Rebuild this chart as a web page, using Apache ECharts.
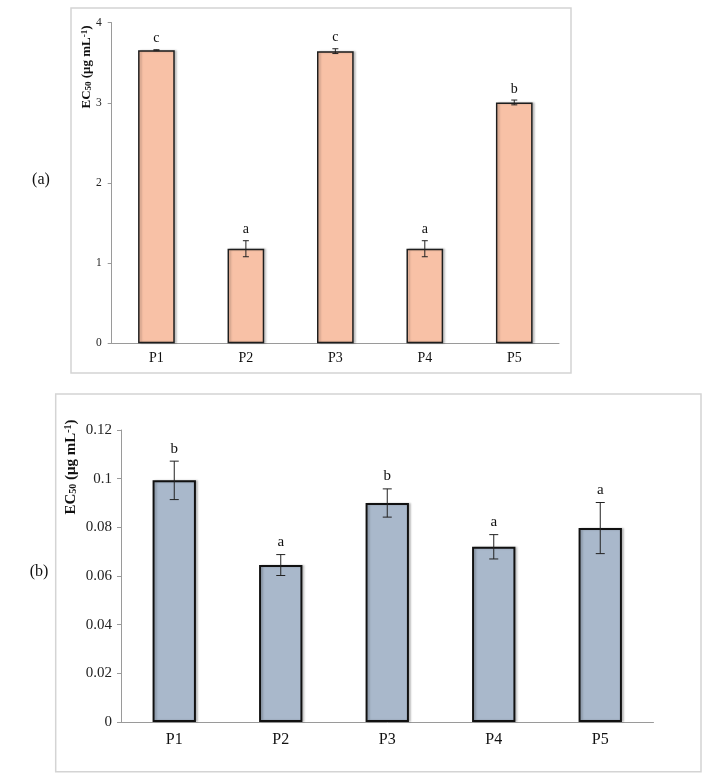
<!DOCTYPE html>
<html>
<head>
<meta charset="utf-8">
<script src="https://cdn.jsdelivr.net/npm/echarts@6/dist/echarts.min.js"></script>
<style>
html,body{margin:0;padding:0;background:#fff;}
#c{width:713px;height:784px;}
</style>
</head>
<body>
<div id="c"></div>
<script>
// ---- data ----
const categories = ['P1', 'P2', 'P3', 'P4', 'P5'];
// panel (a)
const meansA = [3.657, 1.18, 3.645, 1.18, 3.005];
const errA = [0.006, 0.10, 0.03, 0.10, 0.03];
const lettersA = ['c', 'a', 'c', 'a', 'b'];
const yTicksA = [0, 1, 2, 3, 4];
// panel (b)
const meansB = [0.0993, 0.0645, 0.090, 0.072, 0.0797];
const errB = [0.0079, 0.0043, 0.0058, 0.005, 0.0105];
const lettersB = ['b', 'a', 'b', 'a', 'a'];
const yTicksB = [0, 0.02, 0.04, 0.06, 0.08, 0.1, 0.12];

const SERIF = '"Liberation Serif", "Times New Roman", serif';
const chart = echarts.init(document.getElementById('c'), null, {renderer: 'canvas'});

function errSeries(xi, yi, means, errs, letters, cap, fontSize, gap) {
  return {
    type: 'custom',
    xAxisIndex: xi, yAxisIndex: yi,
    z: 5,
    data: means.map((m, i) => [i, m, errs[i]]),
    renderItem: function (params, api) {
      const i = api.value(0), m = api.value(1), e = api.value(2);
      const top = api.coord([i, m + e]);
      const bot = api.coord([i, m - e]);
      const st = {stroke: '#222', lineWidth: 1};
      return {
        type: 'group',
        children: [
          {type: 'line', shape: {x1: top[0], y1: top[1], x2: bot[0], y2: bot[1]}, style: st},
          {type: 'line', shape: {x1: top[0] - cap, y1: top[1], x2: top[0] + cap, y2: top[1]}, style: st},
          {type: 'line', shape: {x1: bot[0] - cap, y1: bot[1], x2: bot[0] + cap, y2: bot[1]}, style: st},
          {type: 'text', x: top[0], y: top[1] - gap,
           style: {text: letters[params.dataIndex], fill: '#111', fontFamily: SERIF, fontSize: fontSize,
                   align: 'center', verticalAlign: 'bottom'}}
        ]
      };
    }
  };
}

const axisLineStyle = {color: '#9a9a9a', width: 1};

const option = {
  animation: false,
  backgroundColor: '#fff',
  grid: [
    {left: 111.7, right: 713 - 559, top: 22.7, bottom: 784 - 343.3, containLabel: false},
    {left: 121, right: 713 - 653.5, top: 430, bottom: 784 - 722, containLabel: false}
  ],
  xAxis: [
    {gridIndex: 0, type: 'category', data: categories,
     axisLine: {lineStyle: axisLineStyle}, axisTick: {length: 4, lineStyle: axisLineStyle},
     axisLabel: {color: '#111', fontFamily: SERIF, fontSize: 14, margin: 8}},
    {gridIndex: 1, type: 'category', data: categories,
     axisLine: {lineStyle: axisLineStyle}, axisTick: {length: 4, lineStyle: axisLineStyle},
     axisLabel: {color: '#111', fontFamily: SERIF, fontSize: 16, margin: 10}}
  ],
  yAxis: [
    {gridIndex: 0, type: 'value', min: yTicksA[0], max: yTicksA[yTicksA.length - 1], interval: 1,
     splitLine: {show: false},
     axisLine: {show: true, lineStyle: axisLineStyle}, axisTick: {show: true, length: 4, lineStyle: axisLineStyle},
     axisLabel: {color: '#222', fontFamily: SERIF, fontSize: 11.5, margin: 10}},
    {gridIndex: 1, type: 'value', min: yTicksB[0], max: yTicksB[yTicksB.length - 1], interval: 0.02,
     splitLine: {show: false},
     axisLine: {show: true, lineStyle: axisLineStyle}, axisTick: {show: true, length: 4, lineStyle: axisLineStyle},
     axisLabel: {color: '#222', fontFamily: SERIF, fontSize: 15, margin: 9,
                 formatter: v => String(+v.toFixed(2))}}
  ],
  series: [
    {type: 'bar', xAxisIndex: 0, yAxisIndex: 0, data: meansA, barWidth: '41%',
     itemStyle: {color: '#F8C1A6', borderColor: '#1e1e1e', borderWidth: 1.5,
                 shadowColor: 'rgba(0,0,0,0.2)', shadowBlur: 2, shadowOffsetX: 2}},
    errSeries(0, 0, meansA, errA, lettersA, 3, 14, 4),
    {type: 'bar', xAxisIndex: 1, yAxisIndex: 1, data: meansB, barWidth: '40.7%',
     itemStyle: {color: '#A9B8CB', borderColor: '#111', borderWidth: 2,
                 shadowColor: 'rgba(0,0,0,0.2)', shadowBlur: 2, shadowOffsetX: 2}},
    errSeries(1, 1, meansB, errB, lettersB, 4.5, 15, 5)
  ],
  graphic: [
    {type: 'rect', shape: {x: 71, y: 8, width: 500, height: 365}, z: -10,
     style: {fill: 'none', stroke: '#d4d4d4', lineWidth: 1.5}},
    {type: 'rect', shape: {x: 55.7, y: 394, width: 645.3, height: 377.7}, z: -10,
     style: {fill: 'none', stroke: '#d4d4d4', lineWidth: 1.5}},
    {type: 'text', x: 87, y: 67, rotation: Math.PI / 2,
     style: {text: 'EC{sub|50} (μg mL{sup|-1})', fontFamily: SERIF, fontWeight: 'bold', fontSize: 13,
             fill: '#111', align: 'center', verticalAlign: 'middle',
             rich: {sub: {fontSize: 9, fontWeight: 'bold', fontFamily: SERIF, verticalAlign: 'bottom', padding: [4, 0, 0, 0]},
                    sup: {fontSize: 9, fontWeight: 'bold', fontFamily: SERIF, verticalAlign: 'top', padding: [0, 0, 4, 0]}}}},
    {type: 'text', x: 71, y: 467, rotation: Math.PI / 2,
     style: {text: 'EC{sub|50} (μg mL{sup|-1})', fontFamily: SERIF, fontWeight: 'bold', fontSize: 15,
             fill: '#111', align: 'center', verticalAlign: 'middle',
             rich: {sub: {fontSize: 10, fontWeight: 'bold', fontFamily: SERIF, verticalAlign: 'bottom', padding: [5, 0, 0, 0]},
                    sup: {fontSize: 10, fontWeight: 'bold', fontFamily: SERIF, verticalAlign: 'top', padding: [0, 0, 5, 0]}}}},
    {type: 'text', x: 41, y: 180,
     style: {text: '(a)', fontFamily: SERIF, fontSize: 16, fill: '#111', align: 'center', verticalAlign: 'middle'}},
    {type: 'text', x: 39, y: 572,
     style: {text: '(b)', fontFamily: SERIF, fontSize: 16, fill: '#111', align: 'center', verticalAlign: 'middle'}}
  ]
};
chart.setOption(option);
</script>
</body>
</html>
